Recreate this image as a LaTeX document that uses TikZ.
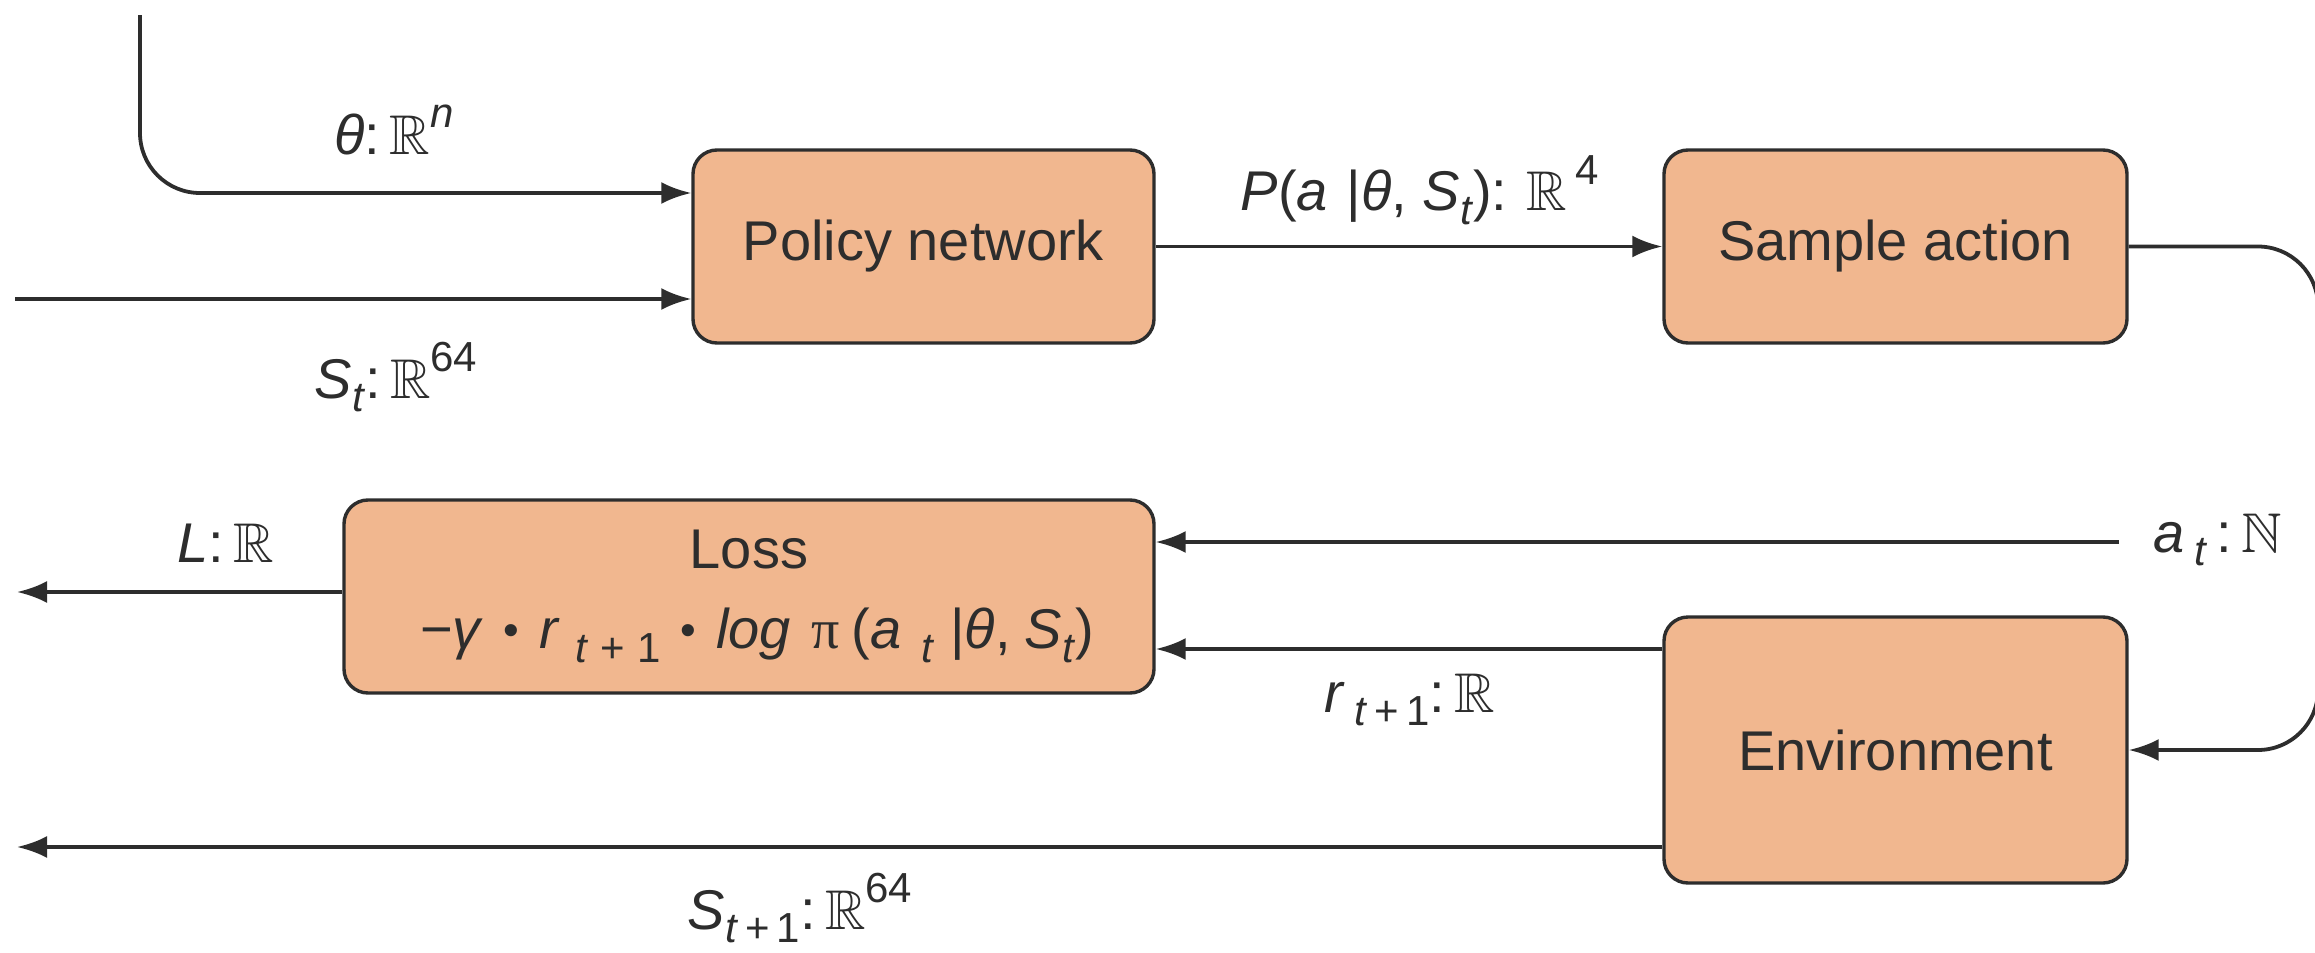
\documentclass[tikz,border=0pt]{standalone}
\usepackage{amssymb}
\usepackage{graphicx}
\usepackage{fontspec}
\setmainfont{Liberation Sans}
\newfontfamily\greekserif{Liberation Serif}
\usetikzlibrary{arrows.meta,calc}
% scalable blackboard-bold letters
\DeclareFontFamily{U}{msb}{}
\DeclareFontShape{U}{msb}{m}{n}{<-> msbm10}{}
\newcommand\Rset{\(\mathbb{R}\)}
\newcommand\Nset{\(\mathbb{N}\)}
\newcommand\dn[1]{\raisebox{-0.45ex}{\scalebox{0.75}{#1}}}
\newcommand\up[1]{\raisebox{0.9ex}{\scalebox{0.75}{#1}}}
\newcommand\bul{\hspace{10pt}\raisebox{0.1ex}{\scalebox{0.8}{•}}\hspace{10pt}}
\definecolor{boxfill}{RGB}{241,183,143}
\definecolor{ink}{RGB}{45,45,45}
\tikzset{
  block/.style={draw=ink, line width=1.7pt, fill=boxfill, rounded corners=12pt,
    inner sep=0pt, align=center, text=ink},
  flow/.style={draw=ink, line width=1.9pt, -{Latex[length=15pt,width=11pt]}},
  tag/.style={text=ink, inner sep=0pt}
}
\begin{document}
\begin{tikzpicture}[x=0.5pt, y=-0.5pt, font=\fontsize{28}{34}\selectfont]
\useasboundingbox (0,0) rectangle (2315,953);

% blocks
\node[block, minimum width=230.5pt, minimum height=96.5pt] (pn) at (923.5,246.5) {Policy network};
\node[block, minimum width=231.5pt, minimum height=96.5pt] (sa) at (1895.5,246.5) {Sample action};
\node[block, minimum width=405pt, minimum height=96.5pt] (loss) at (749,596.5)
  {Loss\\[6pt]
   \hspace{8pt}−\textit{γ}\bul\textit{r}\hspace{8pt}\dn{\textit{t}\hspace{8pt}+\hspace{8pt}1}\bul\textit{log}\hspace{10pt}{\greekserif π}\hspace{6pt}(\textit{a}\hspace{10pt}\dn{\textit{t}}\hspace{8pt}|\textit{θ},\hspace{7pt}\textit{S}\dn{\textit{t}})};
\node[block, minimum width=231.5pt, minimum height=133pt] (env) at (1895.5,750) {Environment};

% free ends of the connectors
\coordinate (thin) at (140,15);
\coordinate (stin) at (15,299);
\coordinate (atin) at (2119,542);
\coordinate (lout) at (17,592);
\coordinate (snext) at (17,847);
\coordinate (loopr) at (2318,500);

% connectors
\draw[flow, rounded corners=30pt] (thin) |- ([yshift=26.75pt]pn.west);
\draw[flow] (stin) -- (stin -| pn.west);
\draw[flow] (pn.east) -- (sa.west);
\draw[flow, rounded corners=30pt] (sa.east) -- (sa.east -| loopr) -- (env.east -| loopr) -- (env.east);
\draw[flow] (atin) -- (atin -| loss.east);
\draw[flow] ([yshift=50.5pt]env.west) -- ([yshift=50.5pt]env.west -| loss.east);
\draw[flow] (loss.west |- lout) -- (lout);
\draw[flow] ([yshift=-48.5pt]env.west) -- ([yshift=-48.5pt]env.west -| snext);

% labels
\node[tag] (lth) at (394,130) {\textit{θ}:\,\Rset\up{\textit{n}}};
\node[tag] (lst) at (396,377) {\textit{S}\dn{\textit{t}}:\,\Rset\up{64}};
\node[tag] (lp) at (1420,190) {\textit{P}(\textit{a}\,\,|\textit{θ}, \textit{S}\dn{\textit{t}}):\,\,\Rset\,\up{4}};
\node[tag] (ll) at (226,543) {\textit{L}:\,\Rset};
\node[tag] (la) at (2218,540) {\textit{a}\,\dn{\textit{t}}\,:\,\Nset};
\node[tag] (lr) at (1410,700) {\textit{r}\,\dn{\textit{t}\,+\,1}:\,\Rset};
\node[tag] (lsn) at (800,908) {\textit{S}\dn{\textit{t}\,+\,1}:\,\Rset\up{64}};
\end{tikzpicture}
\end{document}
